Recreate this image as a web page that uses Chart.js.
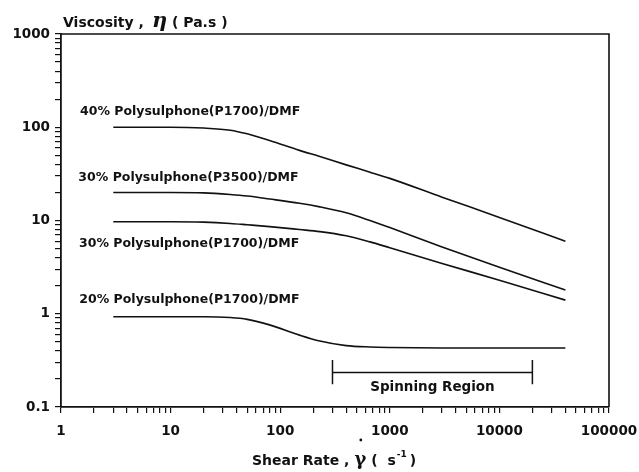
<!DOCTYPE html>
<html>
<head>
<meta charset="utf-8">
<script src="https://cdn.jsdelivr.net/npm/chart.js@4.4.1/dist/chart.umd.min.js"></script>
<style>
  html, body { margin: 0; padding: 0; background: #fff; }
  #wrap { width: 639px; height: 472px; }
</style>
</head>
<body>
<div id="wrap"><canvas id="chart" width="639" height="472"></canvas></div>
<script>
// Shear rate (1/s) at which each viscosity curve is sampled
const shearRates = [3, 10, 20, 35, 50, 80, 150, 230, 400, 660, 1000, 3000, 10000, 40000];

// Viscosity (Pa.s) for each solution
const pes40P1700 = [100, 100, 98, 93, 85, 72, 56.5, 48.5, 39.5, 33, 28.3, 17.8, 10.8, 6.0];
const pes30P3500 = [20, 20, 19.8, 19.0, 18.3, 17.0, 15.3, 14.0, 12.1, 10.0, 8.4, 5.2, 3.15, 1.8];
const pes30P1700 = [9.7, 9.7, 9.6, 9.3, 9.0, 8.6, 8.0, 7.6, 6.85, 5.9, 5.1, 3.46, 2.29, 1.4];
const pes20P1700 = [0.93, 0.93, 0.93, 0.91, 0.87, 0.76, 0.59, 0.51, 0.455, 0.44, 0.435, 0.43, 0.43, 0.43];

const seriesNames = [
  '40% Polysulphone(P1700)/DMF',
  '30% Polysulphone(P3500)/DMF',
  '30% Polysulphone(P1700)/DMF',
  '20% Polysulphone(P1700)/DMF'
];
// Where each curve's name sits (left edge shear rate, viscosity at text centre)
const nameAtRate = [1.49, 1.44, 1.46, 1.47];
const nameAtViscosity = [145, 29, 5.7, 1.4];

// Spinning region bracket
const spinningFrom = 300;
const spinningTo = 20000;
const spinningLevel = 0.235;
const spinningCapTop = 0.32;
const spinningCapBottom = 0.175;
const spinningText = 'Spinning Region';
const spinningTextLevel = 0.16;

// Axis ranges and labelled decades
const xMin = 1, xMax = 100000;
const yMin = 0.1, yMax = 1000;
const xTickLabels = ['1', '10', '100', '1000', '10000', '100000'];
const yTickLabels = ['0.1', '1', '10', '100', '1000'];

const toPoints = (vals) => shearRates.map((r, i) => ({ x: r, y: vals[i] }));

function decadeTicks(lo, hi) {
  const out = [];
  const e0 = Math.round(Math.log10(lo)), e1 = Math.round(Math.log10(hi));
  for (let e = e0; e <= e1; e++) {
    for (let m = 1; m <= 9; m++) {
      if (e === e1 && m > 1) break;
      const v = parseFloat((m * Math.pow(10, e)).toPrecision(6));
      out.push({ value: v, major: m === 1 });
    }
  }
  return out;
}
function decadeLabel(labels, lo) {
  return (v) => {
    const l = Math.log10(v);
    if (Math.abs(l - Math.round(l)) > 1e-6) return '';
    const idx = Math.round(l) - Math.round(Math.log10(lo));
    return labels[idx] ?? '';
  };
}

const lineStyle = {
  borderColor: '#111',
  borderWidth: 1.6,
  pointRadius: 0,
  fill: false,
  cubicInterpolationMode: 'monotone'
};
const bracketStyle = {
  borderColor: '#111',
  borderWidth: 1.5,
  pointRadius: 0,
  fill: false,
  tension: 0
};

const datasets = [
  { label: seriesNames[0], data: toPoints(pes40P1700), ...lineStyle },
  { label: seriesNames[1], data: toPoints(pes30P3500), ...lineStyle },
  { label: seriesNames[2], data: toPoints(pes30P1700), ...lineStyle },
  { label: seriesNames[3], data: toPoints(pes20P1700), ...lineStyle },
  { label: 'bar', data: [{ x: spinningFrom, y: spinningLevel }, { x: spinningTo, y: spinningLevel }], ...bracketStyle },
  { label: 'capL', data: [{ x: spinningFrom, y: spinningCapTop }, { x: spinningFrom, y: spinningCapBottom }], ...bracketStyle },
  { label: 'capR', data: [{ x: spinningTo, y: spinningCapTop }, { x: spinningTo, y: spinningCapBottom }], ...bracketStyle }
];

const FONT = '"DejaVu Sans", "Liberation Sans", Arial, sans-serif';
const SERIF = '"DejaVu Serif", "Liberation Serif", serif';

const annotations = {
  id: 'annotations',
  afterDatasetsDraw(chart) {
    const { ctx, chartArea: a, scales: { x, y } } = chart;
    ctx.save();
    // top and right frame
    ctx.strokeStyle = '#111';
    ctx.lineWidth = 1.6;
    ctx.beginPath();
    ctx.moveTo(a.left, a.top);
    ctx.lineTo(a.right, a.top);
    ctx.lineTo(a.right, a.bottom);
    ctx.stroke();

    ctx.fillStyle = '#111';
    ctx.textBaseline = 'middle';
    ctx.textAlign = 'left';
    ctx.font = 'bold 12.5px ' + FONT;
    seriesNames.forEach((n, i) => {
      ctx.fillText(n, x.getPixelForValue(nameAtRate[i]), y.getPixelForValue(nameAtViscosity[i]));
    });

    ctx.textAlign = 'center';
    ctx.font = 'bold 13.5px ' + FONT;
    ctx.fillText(spinningText,
      x.getPixelForValue(Math.sqrt(spinningFrom * spinningTo)),
      y.getPixelForValue(spinningTextLevel));

    // y-axis title, written across the top
    ctx.textAlign = 'left';
    ctx.textBaseline = 'alphabetic';
    ctx.font = 'bold 14px ' + FONT;
    ctx.fillText('Viscosity ,', 63, 27);
    ctx.font = 'bold italic 21px ' + SERIF;
    ctx.fillText('\u03B7', 152, 27);
    ctx.font = 'bold 14px ' + FONT;
    ctx.fillText('( Pa.s )', 172, 27);

    // x-axis title
    const base = 465;
    let px = 252;
    ctx.font = 'bold 14px ' + FONT;
    ctx.fillText('Shear Rate ,', px, base);
    px += ctx.measureText('Shear Rate ,').width + 5;
    ctx.font = 'bold 18px ' + SERIF;
    ctx.fillText('\u03B3', px, base);
    const gw = ctx.measureText('\u03B3').width;
    ctx.beginPath();
    ctx.arc(px + gw / 2 + 0.5, 440, 1.4, 0, Math.PI * 2);
    ctx.fill();
    px += gw + 5;
    ctx.font = 'bold 14px ' + FONT;
    ctx.fillText('(  s', px, base);
    px += ctx.measureText('(  s').width + 1;
    ctx.font = 'bold 9px ' + FONT;
    ctx.fillText('-1', px, base - 8);
    px += ctx.measureText('-1').width + 3;
    ctx.font = 'bold 14px ' + FONT;
    ctx.fillText(')', px, base);
    ctx.restore();
  }
};

new Chart(document.getElementById('chart'), {
  type: 'line',
  data: { datasets },
  options: {
    responsive: false,
    animation: false,
    events: [],
    layout: { padding: { top: 34, right: 30, left: 0, bottom: 0 } },
    plugins: { legend: { display: false }, tooltip: { enabled: false } },
    scales: {
      x: {
        type: 'logarithmic',
        min: xMin, max: xMax,
        afterBuildTicks: (s) => { s.ticks = decadeTicks(xMin, xMax); },
        afterFit: (s) => { s.height = 65; s.paddingLeft = 0; s.paddingRight = 0; },
        border: { display: true, color: '#111', width: 1.8 },
        grid: { drawOnChartArea: false, drawTicks: true, tickLength: 6, color: '#111', lineWidth: 1.2 },
        ticks: {
          autoSkip: false, maxRotation: 0, minRotation: 0, padding: 10,
          color: '#111', font: { family: FONT, size: 13.5, weight: 'bold' },
          callback: decadeLabel(xTickLabels, xMin)
        }
      },
      y: {
        type: 'logarithmic',
        min: yMin, max: yMax,
        afterBuildTicks: (s) => { s.ticks = decadeTicks(yMin, yMax); },
        afterFit: (s) => { s.width = 61; },
        border: { display: true, color: '#111', width: 1.8 },
        grid: { drawOnChartArea: false, drawTicks: true, tickLength: 6, color: '#111', lineWidth: 1.2 },
        ticks: {
          autoSkip: false, padding: 5,
          color: '#111', font: { family: FONT, size: 13.5, weight: 'bold' },
          callback: decadeLabel(yTickLabels, yMin)
        }
      }
    }
  },
  plugins: [annotations]
});
</script>
</body>
</html>
